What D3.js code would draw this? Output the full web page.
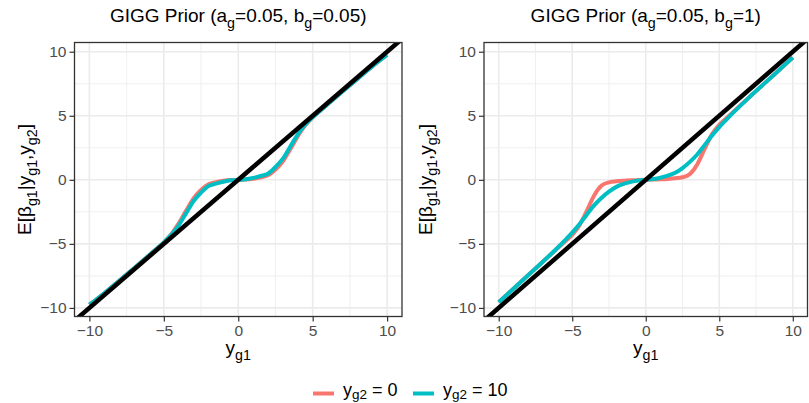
<!DOCTYPE html>
<html>
<head>
<meta charset="utf-8">
<script src="https://cdn.jsdelivr.net/npm/d3@7"></script>
<style>
  html, body { margin: 0; padding: 0; background: #fff; }
  svg { display: block; font-family: "Liberation Sans", Arial, sans-serif; }
</style>
</head>
<body>
<svg id="chart" width="809" height="403"></svg>
<script>
// ---- data ----
const xGrid = [-10,-9,-8,-7,-6,-5.5,-5,-4.5,-4,-3.5,-3,-2.5,-2,-1.5,-1,-0.5,0,0.5,1,1.5,2,2.5,3,3.5,4,4.5,5,5.5,6,7,8,9,10];

// panel 1: a_g = 0.05, b_g = 0.05
const leftRed  = [-9.75,-8.85,-7.88,-6.9,-5.9,-5.4,-4.88,-4.25,-3.4,-2.4,-1.45,-0.8,-0.35,-0.18,-0.08,-0.02,0,0.02,0.08,0.18,0.35,0.8,1.45,2.4,3.4,4.25,4.88,5.4,5.9,6.9,7.88,8.85,9.75];
const leftCyan = [-9.75,-8.85,-7.88,-6.9,-5.9,-5.4,-4.88,-4.3,-3.55,-2.6,-1.65,-1.0,-0.48,-0.3,-0.15,-0.04,0,0.04,0.15,0.3,0.48,1.0,1.65,2.6,3.55,4.3,4.88,5.4,5.9,6.9,7.88,8.85,9.75];

// panel 2: a_g = 0.05, b_g = 1
const rightRed  = [-9.55,-8.5,-7.45,-6.4,-5.35,-4.82,-4.3,-3.55,-2.4,-1.2,-0.45,-0.2,-0.12,-0.07,-0.04,-0.02,0,0.02,0.04,0.07,0.12,0.2,0.45,1.2,2.4,3.55,4.3,4.82,5.35,6.4,7.45,8.5,9.55];
const rightCyan = [-9.55,-8.5,-7.45,-6.4,-5.3,-4.72,-4.12,-3.45,-2.7,-1.98,-1.4,-0.92,-0.55,-0.32,-0.16,-0.06,0,0.06,0.16,0.32,0.55,0.92,1.4,1.98,2.7,3.45,4.12,4.72,5.3,6.4,7.45,8.5,9.55];

// identity reference line y = x
const refX = [-11, 11];
const refY = [-11, 11];

const majorTicks = [-10, -5, 0, 5, 10];
const minorTicks = [-7.5, -2.5, 2.5, 7.5];
const tickLabels = ["\u221210", "\u22125", "0", "5", "10"];

const seriesNames = ["0", "10"];
const seriesColors = ["#F8766D", "#00BFC4"];

const panels = [
  { id: "p1", bg: "0.05", red: leftRed, cyan: leftCyan, x0: 74.5, x1: 402, titleX: 31 },
  { id: "p2", bg: "1", red: rightRed, cyan: rightCyan, x0: 484, x1: 807.5, titleX: 431.5 }
];

// ---- drawing ----
const svg = d3.select("#chart");
const panelTop = 42.5, panelBottom = 316.5;
const xDomain = [-11, 11];
const yDomain = [-10.67, 10.72];

function subTextSeq(sel, parts, fs, shift) {
  const sh = shift === undefined ? fs * 0.3 : shift;
  let down = false;
  parts.forEach(([t, sub]) => {
    const ts = sel.append("tspan").text(t);
    if (sub && !down) { ts.attr("font-size", fs * 0.75).attr("dy", sh); down = true; }
    else if (sub && down) { ts.attr("font-size", fs * 0.75); }
    else if (!sub && down) { ts.attr("dy", -sh); down = false; }
  });
}

panels.forEach((p) => {
  const x = d3.scaleLinear().domain(xDomain).range([p.x0, p.x1]);
  const y = d3.scaleLinear().domain(yDomain).range([panelBottom, panelTop]);
  const g = svg.append("g");

  g.append("defs").append("clipPath").attr("id", "clip-" + p.id)
    .append("rect").attr("x", p.x0).attr("y", panelTop).attr("width", p.x1 - p.x0).attr("height", panelBottom - panelTop);

  // grid
  const grid = g.append("g");
  minorTicks.forEach(v => {
    grid.append("line").attr("x1", x(v)).attr("x2", x(v)).attr("y1", panelTop).attr("y2", panelBottom)
      .attr("stroke", "#EBEBEB").attr("stroke-width", 0.8);
    grid.append("line").attr("y1", y(v)).attr("y2", y(v)).attr("x1", p.x0).attr("x2", p.x1)
      .attr("stroke", "#EBEBEB").attr("stroke-width", 0.8);
  });
  majorTicks.forEach(v => {
    grid.append("line").attr("x1", x(v)).attr("x2", x(v)).attr("y1", panelTop).attr("y2", panelBottom)
      .attr("stroke", "#EBEBEB").attr("stroke-width", 1.6);
    grid.append("line").attr("y1", y(v)).attr("y2", y(v)).attr("x1", p.x0).attr("x2", p.x1)
      .attr("stroke", "#EBEBEB").attr("stroke-width", 1.6);
  });

  // lines
  const lineGen = d3.line().x((d) => x(d[0])).y((d) => y(d[1])).curve(d3.curveMonotoneX);
  const lines = g.append("g").attr("clip-path", "url(#clip-" + p.id + ")");
  lines.append("path").datum(xGrid.map((v, i) => [v, p.red[i]]))
    .attr("d", lineGen).attr("fill", "none").attr("stroke", seriesColors[0]).attr("stroke-width", 4);
  lines.append("path").datum(xGrid.map((v, i) => [v, p.cyan[i]]))
    .attr("d", lineGen).attr("fill", "none").attr("stroke", seriesColors[1]).attr("stroke-width", 4);
  lines.append("path").datum(refX.map((v, i) => [v, refY[i]]))
    .attr("d", d3.line().x(d => x(d[0])).y(d => y(d[1]))).attr("fill", "none")
    .attr("stroke", "#000").attr("stroke-width", 4.5);

  // border
  g.append("rect").attr("x", p.x0).attr("y", panelTop).attr("width", p.x1 - p.x0).attr("height", panelBottom - panelTop)
    .attr("fill", "none").attr("stroke", "#333333").attr("stroke-width", 1.3);

  // axes
  const xAxis = d3.axisBottom(x).tickValues(majorTicks).tickSize(5).tickPadding(3)
    .tickFormat((d, i) => tickLabels[i]);
  const yAxis = d3.axisLeft(y).tickValues(majorTicks).tickSize(5).tickPadding(3)
    .tickFormat((d, i) => tickLabels[i]);
  const gx = g.append("g").attr("transform", `translate(0,${panelBottom})`).call(xAxis);
  const gy = g.append("g").attr("transform", `translate(${p.x0},0)`).call(yAxis);
  [gx, gy].forEach(a => {
    a.select(".domain").remove();
    a.selectAll(".tick line").attr("stroke", "#333333").attr("stroke-width", 1.2);
    a.selectAll(".tick text").attr("fill", "#4D4D4D").attr("font-size", 15.5)
      .attr("font-family", "Liberation Sans, Arial, sans-serif");
  });

  // title
  const tfs = 19;
  const title = g.append("text").attr("x", (p.x0 + p.x1) / 2).attr("y", 22)
    .attr("text-anchor", "middle").attr("font-size", tfs).attr("fill", "#000");
  subTextSeq(title, [["GIGG Prior (a", false], ["g", true], ["=0.05, b", false], ["g", true], ["=" + p.bg + ")", false]], tfs);

  // x axis title
  const afs = 19;
  const xt = g.append("text").attr("x", (p.x0 + p.x1) / 2).attr("y", 354)
    .attr("text-anchor", "middle").attr("font-size", afs).attr("fill", "#000");
  subTextSeq(xt, [["y", false], ["g1", true]], afs);

  // y axis title
  const yt = g.append("text").attr("transform", `translate(${p.titleX},${(panelTop + panelBottom) / 2}) rotate(-90)`)
    .attr("text-anchor", "middle").attr("font-size", afs).attr("fill", "#000");
  subTextSeq(yt, [["E[\u03B2", false], ["g1", true], ["|y", false], ["g1", true], [",y", false], ["g2", true], ["]", false]], afs);
});

// legend
const legend = svg.append("g");
const lfs = 18;
const legendKeyX = [313, 413];
const legendTextX = [343, 443];
seriesNames.forEach((name, i) => {
  legend.append("line").attr("x1", legendKeyX[i]).attr("x2", legendKeyX[i] + 21)
    .attr("y1", 393.5).attr("y2", 393.5).attr("stroke", seriesColors[i]).attr("stroke-width", 4);
  const t = legend.append("text").attr("x", legendTextX[i]).attr("y", 396)
    .attr("font-size", lfs).attr("fill", "#000");
  subTextSeq(t, [["y", false], ["g2", true], [" = " + name, false]], lfs, 3);
});
</script>
</body>
</html>
